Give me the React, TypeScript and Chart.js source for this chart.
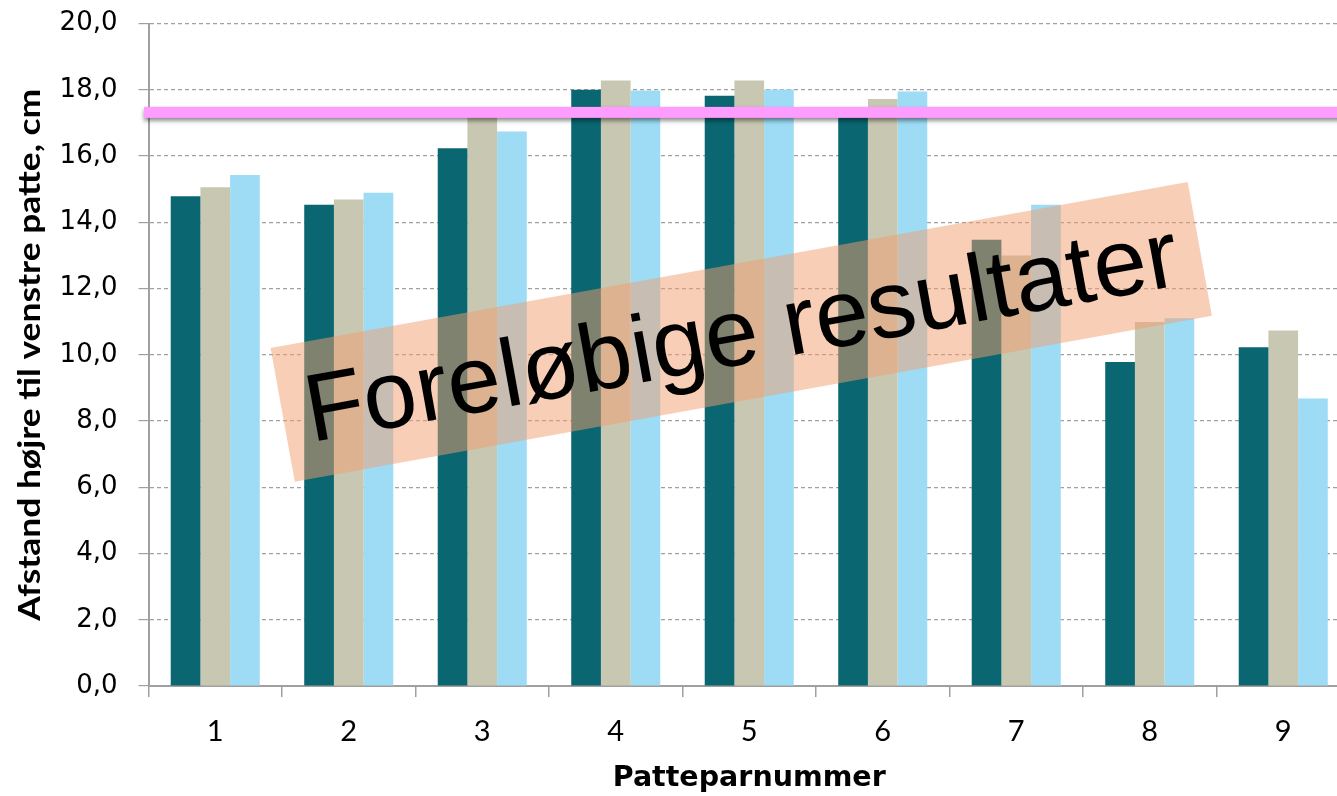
import React, { useEffect, useRef } from "react";
import { Chart, registerables } from "chart.js";

Chart.register(...registerables);

const categories = ["1", "2", "3", "4", "5", "6", "7", "8", "9"];
const seriesA = [14.79, 14.53, 16.24, 18.0, 17.82, 17.45, 13.47, 9.78, 10.23];
const seriesB = [15.06, 14.69, 17.18, 18.28, 18.28, 17.72, 13.0, 10.99, 10.73];
const seriesC = [15.43, 14.89, 16.74, 17.98, 18.01, 17.95, 14.53, 11.1, 8.68];
const seriesColors = ["#0A6670", "#C8C7B2", "#9EDCF6"];
const referenceLineValue = 17.32;
const yTitle = "Afstand højre til venstre patte, cm";
const xTitle = "Patteparnummer";
const stampText = "Foreløbige resultater";
// stamp anchor in data units (category index, value)
const stampCenterIndex = 3.94;
const stampCenterValue = 10.69;

const SHIFT = 13;

const overlayPlugin = {
  id: "overlayPlugin",
  afterDraw(chart: any) {
    const { ctx, chartArea } = chart;
    // y axis title, fitted along its length
    ctx.save();
    ctx.translate(30, (chartArea.top + chartArea.bottom) / 2);
    ctx.rotate(-Math.PI / 2);
    ctx.font = 'bold 30px "Lato", sans-serif';
    const tw = ctx.measureText(yTitle).width;
    ctx.scale(532 / tw, 1);
    ctx.fillStyle = "#000";
    ctx.textAlign = "center";
    ctx.textBaseline = "middle";
    ctx.fillText(yTitle, 0, 0);
    ctx.restore();
  },
  afterDatasetsDraw(chart: any) {
    const { ctx } = chart;
    const x = chart.scales.x;
    const y = chart.scales.y;
    // reference line
    const ly = y.getPixelForValue(referenceLineValue);
    ctx.save();
    ctx.shadowColor = "rgba(0,0,0,0.45)";
    ctx.shadowBlur = 4;
    ctx.shadowOffsetY = 3;
    ctx.fillStyle = "#FF9CFF";
    ctx.fillRect(x.left - 4.5, ly - 5.5, chart.width - x.left + 10, 11);
    ctx.restore();

    // stamp
    const cx = x.getPixelForValue(stampCenterIndex);
    const cy = y.getPixelForValue(stampCenterValue);
    const w = 932;
    const h = 136;
    const ang = (-10.26 * Math.PI) / 180;
    ctx.save();
    ctx.translate(cx, cy);
    ctx.rotate(ang);
    ctx.fillStyle = "rgba(241,157,109,0.5)";
    ctx.fillRect(-w / 2, -h / 2, w, h);
    ctx.fillStyle = "#000";
    ctx.font = '96px "Liberation Sans", Arial, sans-serif';
    ctx.textAlign = "center";
    ctx.textBaseline = "alphabetic";
    ctx.fillText(stampText, 0, 32);
    ctx.restore();
  },
};

export default function App() {
  const ref = useRef<HTMLCanvasElement>(null);
  useEffect(() => {
    const canvas = ref.current!;
    const chart = new Chart(canvas, {
      type: "bar",
      data: {
        labels: categories,
        datasets: [
          { label: "A", data: seriesA, backgroundColor: seriesColors[0] },
          { label: "B", data: seriesB, backgroundColor: seriesColors[1] },
          { label: "C", data: seriesC, backgroundColor: seriesColors[2] },
        ],
      },
      options: {
        responsive: false,
        animation: false,
        devicePixelRatio: 1,
        layout: { padding: { left: 0, right: 0, top: 23, bottom: 0 } },
        plugins: { legend: { display: false }, tooltip: { enabled: false } },
        datasets: { bar: { categoryPercentage: 0.667, barPercentage: 1.0 } },
        scales: {
          x: {
            offset: true,
            grid: {
              display: true,
              drawOnChartArea: false,
              offset: true,
              tickLength: 11,
              color: "#A0A0A0",
              lineWidth: 1.5,
            },
            border: { display: true, color: "#A0A0A0", width: 2 },
            ticks: {
              color: "#000",
              padding: 17,
              font: { family: "Lato", size: 29 },
              maxRotation: 0,
            },
            title: {
              display: true,
              text: xTitle,
              color: "#000",
              font: { family: "DejaVu Sans", size: 28.5, weight: "bold" },
              padding: { top: 0, bottom: 0 },
            },
            afterFit(scale: any) {
              scale.height = 110;
            },
          },
          y: {
            min: 0,
            max: 20,
            ticks: {
              stepSize: 2,
              color: "#000",
              padding: 21,
              font: { family: "DejaVu Sans", size: 26 },
              callback: (v: any) => Number(v).toFixed(1).replace(".", ","),
            },
            grid: {
              color: "#A0A0A0",
              lineWidth: 1.2,
              tickLength: 10,
              tickColor: "#A0A0A0",
              tickBorderDash: [],
            },
            border: { display: true, color: "#A0A0A0", width: 2, dash: [4, 3] },
            title: { display: false },
            afterFit(scale: any) {
              scale.width = 148.5;
            },
          },
        },
      },
      plugins: [overlayPlugin],
    } as any);
    return () => chart.destroy();
  }, []);
  return (
    <div
      style={{
        position: "fixed",
        left: 0,
        top: 0,
        width: 1337,
        height: 796,
        overflow: "hidden",
        background: "#fff",
      }}
    >
      <canvas
        ref={ref}
        width={1350}
        height={796 + SHIFT}
        style={{ display: "block", marginTop: -SHIFT }}
      />
    </div>
  );
}
